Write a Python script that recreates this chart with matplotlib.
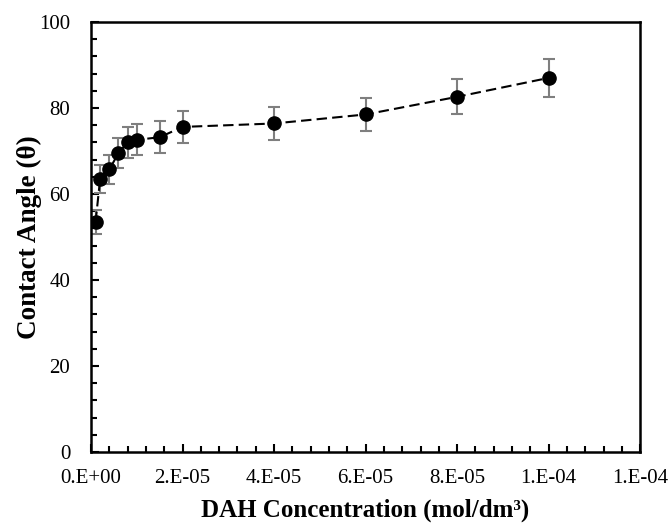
import matplotlib
matplotlib.use('Agg')
import matplotlib.pyplot as plt
import matplotlib.ticker as mtick

# DAH concentration (mol/dm3) vs contact angle
conc = [1e-6, 2e-6, 4e-6, 6e-6, 8e-6, 1e-5, 1.5e-5, 2e-5, 4e-5, 6e-5, 8e-5, 1e-4]
angle = [53.5, 63.5, 65.7, 69.5, 72.0, 72.6, 73.2, 75.6, 76.4, 78.5, 82.6, 87.0]
angle_err = [2.7, 3.2, 3.3, 3.5, 3.6, 3.6, 3.7, 3.8, 3.8, 3.9, 4.1, 4.4]

plt.rcParams['font.family'] = ['Liberation Serif', 'DejaVu Serif']

fig = plt.figure(figsize=(6.7, 5.24), dpi=100)
ax = fig.add_axes([0.1358, 0.1374, 0.8197, 0.8206])

ax.errorbar(conc, angle, yerr=angle_err, fmt='none', ecolor='#7f7f7f',
            elinewidth=1.5, capsize=4, capthick=1.5, zorder=2)
ax.plot(conc, angle, color='black', linewidth=1.5, dashes=(5, 2.5),
        marker='o', markersize=9.5, markerfacecolor='black',
        markeredgecolor='black', zorder=3)

ax.set_xlim(0, 1.2e-4)
ax.set_ylim(0, 100)
ax.xaxis.set_major_locator(mtick.MultipleLocator(2e-5))
ax.xaxis.set_minor_locator(mtick.MultipleLocator(4e-6))
ax.yaxis.set_major_locator(mtick.MultipleLocator(20))
ax.yaxis.set_minor_locator(mtick.MultipleLocator(4))
ax.xaxis.set_major_formatter(mtick.FuncFormatter(lambda v, p: '{:#.0E}'.format(v)))

ax.tick_params(which='both', direction='in', width=1.5, labelsize=15)
ax.tick_params(which='major', length=6)
ax.tick_params(which='minor', length=4)
ax.tick_params(axis='y', which='major', pad=15)
ax.tick_params(axis='x', which='major', pad=12)
for s in ax.spines.values():
    s.set_linewidth(1.8)

ax.set_xlabel('DAH Concentration (mol/dm³)', fontsize=18, fontweight='bold', labelpad=8)
ax.set_ylabel('Contact Angle (θ)', fontsize=19.5, fontweight='bold', labelpad=-2)

fig.savefig('out.png', dpi=100)
